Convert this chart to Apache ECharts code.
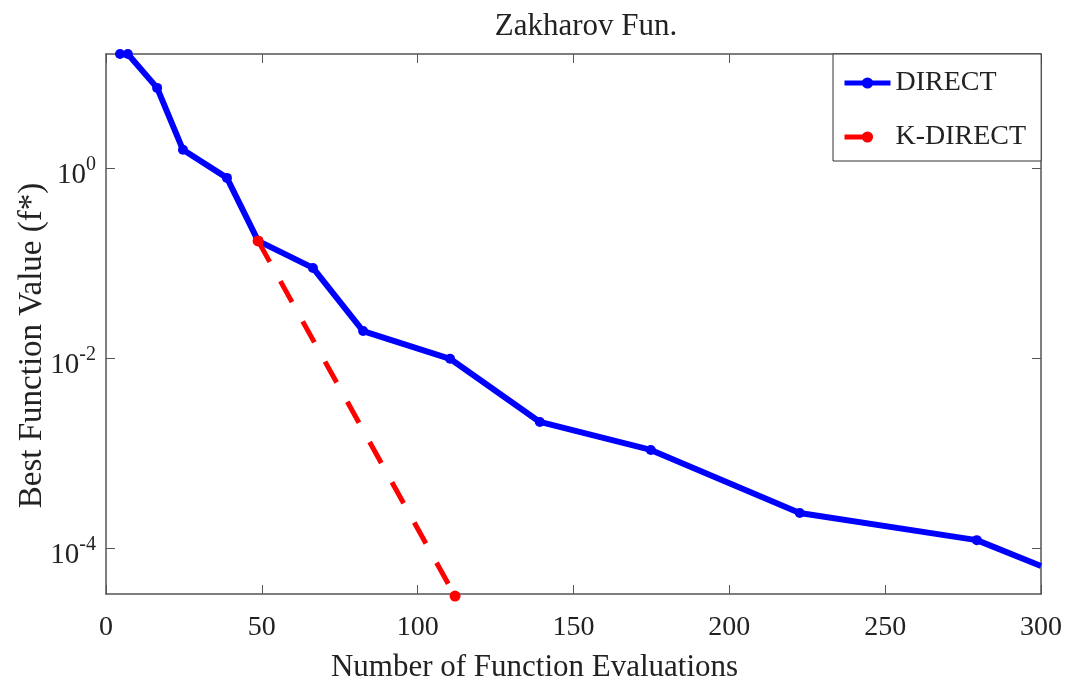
<!DOCTYPE html>
<html>
<head>
<meta charset="utf-8">
<script src="https://cdn.jsdelivr.net/npm/echarts@6/dist/echarts.min.js"></script>
<style>html,body{margin:0;padding:0;background:#fff}#c{width:1072px;height:698px}</style>
</head>
<body>
<div id="c"></div>
<script>
const titleText = 'Zakharov Fun.';
const xName = 'Number of Function Evaluations';
const yName = 'Best Function Value (f*)';
const seriesNames = ['DIRECT', 'K-DIRECT'];
const directX = [4.5, 7, 16.4, 24.7, 38.8, 48.8, 66.4, 82.5, 110.4, 139.2, 174.8, 222.6, 279.4, 300];
const directY = [15.8, 15.8, 6.95, 1.55, 0.785, 0.1705, 0.0886, 0.0192, 0.0098, 0.00212, 0.001076, 0.000233, 0.000121, 0.0000647];
const kdirectX = [48.8, 112];
const kdirectY = [0.1705, 0.0000312];
const xTicks = [0, 50, 100, 150, 200, 250, 300];
const yTickValues = [1e-4, 1e-2, 1];
const yTickExponents = ['-4', '-2', '0'];
const yMin = 0.0000328, yMax = 15.8;

const FONT = '"Times New Roman", "Liberation Serif", serif';
const AX = '#555';
const TXT = '#222';

const directData = directX.map((x, i) => {
  const d = { value: [x, directY[i]] };
  if (i === directX.length - 1) d.symbol = 'none';
  return d;
});
const kdirectData = kdirectX.map((x, i) => [x, kdirectY[i]]);

function yLabel(v) {
  const idx = yTickValues.findIndex(t => Math.abs(Math.log10(t) - Math.log10(v)) < 1e-6);
  if (idx < 0) return '';
  return '{b|10}{s|' + yTickExponents[idx] + '}';
}

const chart = echarts.init(document.getElementById('c'), null, { renderer: 'canvas' });
chart.setOption({
  backgroundColor: '#fff',
  animation: false,
  title: {
    text: titleText, left: 581, top: 6, textAlign: 'center',
    textStyle: { fontFamily: FONT, fontSize: 31, fontWeight: 'normal', color: TXT }
  },
  legend: {
    data: seriesNames, orient: 'vertical', left: 833, top: 54,
    itemWidth: 46, itemHeight: 14, itemGap: 26,
    padding: [15, 15, 10, 9],
    borderColor: '#333', borderWidth: 1, backgroundColor: '#fff',
    lineStyle: { width: 5 },
    textStyle: { fontFamily: FONT, fontSize: 28, color: TXT }
  },
  grid: { left: 106, top: 54, right: 31, bottom: 104, containLabel: false, outerBoundsMode: 'none' },
  xAxis: [{
    type: 'value', min: 0, max: 300, interval: 50,
    name: xName, nameLocation: 'middle', nameGap: 58, nameMoveOverlap: false,
    nameTextStyle: { fontFamily: FONT, fontSize: 31, color: TXT, padding: [0, 78, 0, 0] },
    axisLine: { show: true, onZero: false, lineStyle: { color: AX, width: 1.5 } },
    axisTick: { show: true, inside: true, length: 9, lineStyle: { color: AX } },
    axisLabel: { fontFamily: FONT, fontSize: 28, color: TXT, margin: 20, customValues: xTicks },
    splitLine: { show: false }
  }, {
    type: 'value', min: 0, max: 300, interval: 50, position: 'top',
    axisLine: { show: true, onZero: false, lineStyle: { color: AX, width: 1.5 } },
    axisTick: { show: true, inside: true, length: 9, lineStyle: { color: AX } },
    axisLabel: { show: false }, splitLine: { show: false }
  }],
  yAxis: [{
    type: 'log', logBase: 10, min: yMin, max: yMax,
    name: yName, nameLocation: 'middle', nameGap: 57, nameMoveOverlap: false,
    nameTextStyle: { fontFamily: FONT, fontSize: 33, color: TXT, padding: [0, 43, 0, 0] },
    axisLine: { show: true, onZero: false, lineStyle: { color: AX, width: 1.5 } },
    axisTick: { show: true, inside: true, length: 9, lineStyle: { color: AX }, customValues: yTickValues },
    axisLabel: {
      customValues: yTickValues, margin: 10, formatter: yLabel, padding: [14, 0, 0, 0],
      rich: {
        b: { fontFamily: FONT, fontSize: 29, color: TXT, lineHeight: 40 },
        s: { fontFamily: FONT, fontSize: 20, color: TXT, verticalAlign: 'top', lineHeight: 20 }
      }
    },
    splitLine: { show: false }, minorTick: { show: false }
  }, {
    type: 'log', logBase: 10, min: yMin, max: yMax, position: 'right',
    axisLine: { show: true, onZero: false, lineStyle: { color: AX, width: 1.5 } },
    axisTick: { show: true, inside: true, length: 9, lineStyle: { color: AX }, customValues: yTickValues },
    axisLabel: { show: false }, splitLine: { show: false }
  }],
  series: [{
    name: seriesNames[0], type: 'line', xAxisIndex: 0, yAxisIndex: 0,
    data: directData, symbol: 'circle', symbolSize: 10, clip: false,
    lineStyle: { color: '#0000ff', width: 6 }, itemStyle: { color: '#0000ff' }, z: 2
  }, {
    name: seriesNames[1], type: 'line', xAxisIndex: 0, yAxisIndex: 0,
    data: kdirectData, symbol: 'circle', symbolSize: 11, clip: false,
    lineStyle: { color: '#ff0000', width: 5, type: [24, 22] }, itemStyle: { color: '#ff0000' }, z: 3
  }]
});
</script>
</body>
</html>
